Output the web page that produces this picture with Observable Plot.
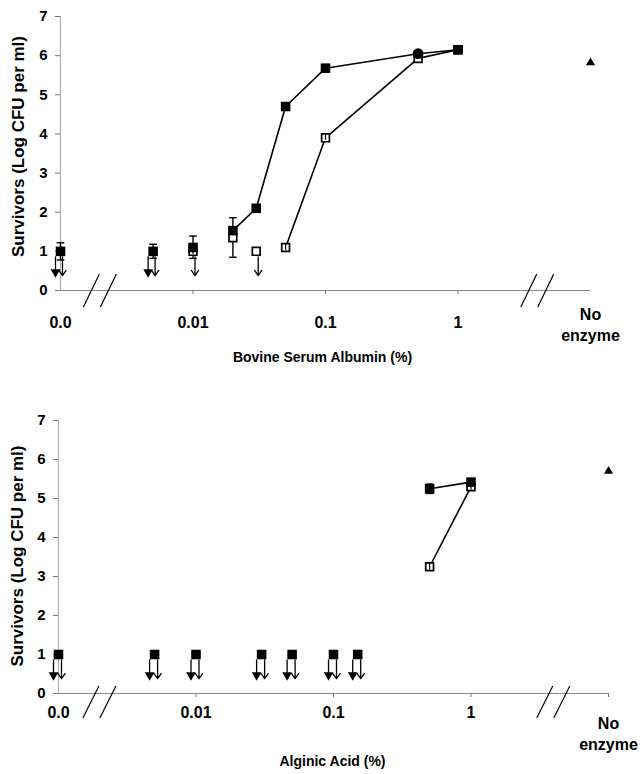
<!DOCTYPE html>
<html><head><meta charset="utf-8">
<script src="https://cdn.jsdelivr.net/npm/d3@7"></script>
<script src="https://cdn.jsdelivr.net/npm/@observablehq/plot@0.6"></script>
<style>
body{margin:0;background:#fff;}
#chart svg{display:block;}
</style></head><body><div id="chart"></div>
<script>
// ---- shared axis data ----
const yTicks = [0, 1, 2, 3, 4, 5, 6, 7];
const xTickValues = [0.001, 0.01, 0.1, 1, 10];
const xTickLabels = ["0.0", "0.01", "0.1", "1", "No\nenzyme"];
const axisBreaks = [0.002, 4];
const noEnzymeConc = 10;
const yLabel = "Survivors (Log CFU per ml)";

// ---- top panel: Bovine Serum Albumin ----
const bsaConc       = [0.001, 0.005, 0.01, 0.02, 0.03, 0.05, 0.1, 0.5, 1];
const bsaFilled     = [1.0, 1.0, 1.1, 1.53, 2.1, 4.7, 5.68, 6.05, 6.15];
const bsaFilledLo   = [0.78, 0.82, 0.82, 0.85, null, null, null, null, null];
const bsaFilledHi   = [1.22, 1.18, 1.39, 1.86, null, null, null, null, null];
const bsaFilledBelow= [true, true, false, false, false, false, false, false, false];
const bsaFilledLine = [false, false, false, true, true, true, true, true, true];
const bsaFilledSym  = ["square","square","square","square","square","square","square","circle","square"];
const bsaOpen       = [1.0, 1.0, 1.0, 1.35, 1.0, 1.1, 3.9, 5.93, 6.15];
const bsaOpenLo     = [null, null, 0.92, null, null, 1.03, 3.84, null, null];
const bsaOpenHi     = [null, null, 1.08, null, null, 1.17, 3.96, null, null];
const bsaOpenBelow  = [true, true, true, false, true, false, false, false, false];
const bsaOpenLine   = [false, false, false, false, false, true, true, true, true];
const bsaNoEnzyme   = 5.82;

// ---- bottom panel: Alginic Acid ----
const algConc       = [0.001, 0.005, 0.01, 0.03, 0.05, 0.1, 0.15, 0.5, 1];
const algFilled     = [1, 1, 1, 1, 1, 1, 1, 5.25, 5.42];
const algFilledLo   = [null, null, null, null, null, null, null, 5.13, null];
const algFilledHi   = [null, null, null, null, null, null, null, 5.37, null];
const algFilledBelow= [true, true, true, true, true, true, true, false, false];
const algFilledLine = [false, false, false, false, false, false, false, true, true];
const algFilledSym  = ["square","square","square","square","square","square","square","square","square"];
const algOpen       = [1, 1, 1, 1, 1, 1, 1, 3.25, 5.3];
const algOpenLo     = [null, null, null, null, null, null, null, 3.16, 5.22];
const algOpenHi     = [null, null, null, null, null, null, null, 3.34, 5.38];
const algOpenBelow  = [true, true, true, true, true, true, true, false, false];
const algOpenLine   = [false, false, false, false, false, false, false, true, true];
const algNoEnzyme   = 5.7;

const capSymbol = {draw(ctx, size) { const w = Math.sqrt(size) / 2; ctx.moveTo(-w, 0); ctx.lineTo(w, 0); }};

function breakMark(breaks, up, down) {
  return (index, scales) => {
    const g = d3.create("svg:g");
    const y0 = scales.y(0);
    for (const b of breaks) {
      const px = scales.x(b);
      for (const off of [-8.5, 8.5]) {
        g.append("line")
          .attr("x1", px + off - 8).attr("y1", y0 + down)
          .attr("x2", px + off + 8).attr("y2", y0 - up)
          .attr("stroke", "black").attr("stroke-width", 1.2);
      }
    }
    return g.node();
  };
}

function panel(o) {
  const rows = o.conc.map((c, i) => ({
    c, f: o.filled[i], fLo: o.filledLo[i], fHi: o.filledHi[i], fBelow: o.filledBelow[i], fLine: o.filledLine[i], fSym: o.filledSym[i],
    o: o.open[i], oLo: o.openLo[i], oHi: o.openHi[i], oBelow: o.openBelow[i], oLine: o.openLine[i]
  }));
  const fErr = rows.filter(r => r.fLo != null);
  const oErr = rows.filter(r => r.oLo != null);
  const fArr = rows.filter(r => r.fBelow);
  const oArr = rows.filter(r => r.oBelow);
  const labels = xTickValues.map((v, i) => ({v, t: xTickLabels[i]}));
  return Plot.plot({
    width: 642, height: o.height,
    marginTop: o.mt, marginBottom: o.mb, marginLeft: o.ml, marginRight: o.mr,
    style: {fontFamily: "'Liberation Sans', Arial, sans-serif", fontWeight: "bold", background: "white", overflow: "visible"},
    x: {type: "log", domain: [0.001, 10]},
    y: {domain: [0, 7]},
    marks: [
      Plot.ruleY([0], {stroke: "#8a8a8a", strokeWidth: 1.2}),
      Plot.ruleX([0.001], {y1: 0, y2: 7, stroke: "#b0b0b0", strokeWidth: 1.2}),
      Plot.axisY({ticks: yTicks, tickFormat: d => String(d), tickSize: 5, tickPadding: 8, fontSize: 15, label: null, stroke: "#777"}),
      Plot.axisX({ticks: o.tickMarks, tickSize: 4, tickFormat: () => "", label: null, stroke: "#777"}),
      Plot.text(labels.slice(0, 4), {x: "v", text: "t", frameAnchor: "bottom", dy: o.tickDy, lineAnchor: "middle", fontSize: 16}),
      Plot.text(labels.slice(4), {x: "v", text: "t", frameAnchor: "bottom", dy: o.lastDy, lineAnchor: "middle", fontSize: 16, lineHeight: 1.3}),
      Plot.text([yLabel], {frameAnchor: "left", textAnchor: "middle", rotate: -90, dx: o.yLabelDx, dy: o.yLabelDy, fontSize: 17}),
      Plot.text([o.xTitle], {frameAnchor: "bottom", dy: o.titleDy, dx: o.titleDx, fontSize: 14}),
      breakMark(axisBreaks, o.breakUp, o.breakDown),
      // connecting lines
      Plot.line(rows.filter(r => r.oLine), {x: "c", y: "o", stroke: "black", strokeWidth: 1.6}),
      Plot.line(rows.filter(r => r.fLine), {x: "c", y: "f", stroke: "black", strokeWidth: 1.6}),
      // error bars
      Plot.ruleX(fErr, {x: "c", y1: "fLo", y2: "fHi", stroke: "black", strokeWidth: 1.4}),
      Plot.dot(fErr, {x: "c", y: "fLo", symbol: capSymbol, r: 4.3, stroke: "black", strokeWidth: 1.4}),
      Plot.dot(fErr, {x: "c", y: "fHi", symbol: capSymbol, r: 4.3, stroke: "black", strokeWidth: 1.4}),
      // below-detection arrows: open series
      Plot.arrow(oArr, {x: "c", y1: 0.86, y2: 0.38, dx: o.openArrowDx, stroke: "black", strokeWidth: 1.3, headLength: 8, headAngle: 70}),
      // below-detection arrows: filled series
      Plot.ruleX(fArr, {x: "c", y1: 0.86, y2: 0.5, dx: -5, stroke: "black", strokeWidth: 1.3}),
      Plot.dot(fArr, {x: "c", y: 0.47, dx: -5, symbol: "triangle", rotate: 180, r: 3.6, fill: "black"}),
      // markers
      Plot.dot(rows.filter(r => !(r.oBelow && r.fBelow)), {x: "c", y: "o", symbol: "square", r: 4.4, fill: "white", stroke: "black", strokeWidth: 1.7}),
      Plot.ruleX(oErr, {x: "c", y1: "oLo", y2: "oHi", stroke: "black", strokeWidth: 1.2}),
      Plot.dot(rows, {x: "c", y: "f", symbol: "fSym", r: 5.4, fill: "black"}),
      Plot.dot([o.noEnz], {x: () => noEnzymeConc, y: d => d, symbol: "triangle", r: 3.4, fill: "black"})
    ]
  });
}

const topPanel = panel({
  conc: bsaConc, filled: bsaFilled, filledLo: bsaFilledLo, filledHi: bsaFilledHi, filledBelow: bsaFilledBelow, filledLine: bsaFilledLine, filledSym: bsaFilledSym,
  open: bsaOpen, openLo: bsaOpenLo, openHi: bsaOpenHi, openBelow: bsaOpenBelow, openLine: bsaOpenLine, noEnz: bsaNoEnzyme,
  xTitle: "Bovine Serum Albumin (%)", tickMarks: [0.01, 0.1, 1], openArrowDx: 2,
  height: 380, mt: 16, mb: 90, ml: 60, mr: 52,
  tickDy: 32, lastDy: 33, titleDy: 71, titleDx: -3, yLabelDx: -42, yLabelDy: -7, breakUp: 16, breakDown: 17
});
const bottomPanel = panel({
  conc: algConc, filled: algFilled, filledLo: algFilledLo, filledHi: algFilledHi, filledBelow: algFilledBelow, filledLine: algFilledLine, filledSym: algFilledSym,
  open: algOpen, openLo: algOpenLo, openHi: algOpenHi, openBelow: algOpenBelow, openLine: algOpenLine, noEnz: algNoEnzyme,
  xTitle: "Alginic Acid (%)", tickMarks: [0.01, 0.1, 1, 10], openArrowDx: 3,
  height: 394, mt: 40, mb: 81, ml: 58, mr: 34,
  tickDy: 19, lastDy: 39, titleDy: 72, titleDx: -1, yLabelDx: -41, yLabelDy: -1, breakUp: 7, breakDown: 25
});
document.getElementById("chart").append(topPanel, bottomPanel);
</script></body></html>
